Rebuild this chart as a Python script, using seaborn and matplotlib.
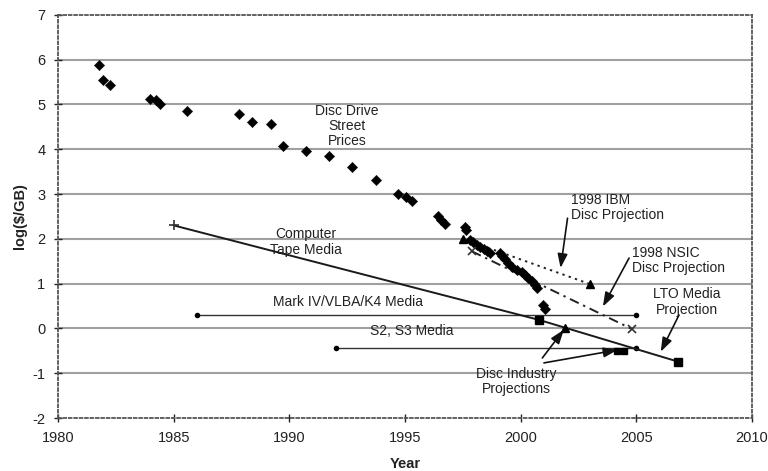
import matplotlib
matplotlib.use("Agg")
import matplotlib.pyplot as plt
import seaborn as sns
import pandas as pd

# ---- data ----
disc_years = [1981.77, 1981.93, 1982.26, 1983.98, 1984.24, 1984.41, 1985.56, 1987.83,
              1988.40, 1989.22, 1989.74, 1990.72, 1991.73, 1992.70, 1993.74, 1994.69,
              1995.05, 1995.32, 1996.43, 1996.58, 1996.73, 1997.60, 1997.66, 1997.80,
              1997.95, 1998.10, 1998.25, 1998.40, 1998.53, 1998.68, 1999.11, 1999.18,
              1999.32, 1999.47, 1999.61, 1999.83, 2000.05, 2000.19, 2000.33, 2000.48,
              2000.62, 2000.70, 2000.98, 2001.06]
disc_logcost = [5.87, 5.55, 5.44, 5.13, 5.09, 5.01, 4.86, 4.78,
                4.60, 4.56, 4.08, 3.96, 3.86, 3.61, 3.31, 3.00,
                2.94, 2.85, 2.50, 2.41, 2.33, 2.27, 2.20, 1.98,
                1.92, 1.87, 1.81, 1.77, 1.72, 1.68, 1.68, 1.62,
                1.55, 1.47, 1.38, 1.31, 1.25, 1.20, 1.12, 1.05,
                0.97, 0.90, 0.53, 0.43]

tape_years = [1985.0, 2000.8, 2006.8]
tape_logcost = [2.30, 0.19, -0.74]

mark4_years = [1986.0, 2005.0]
mark4_logcost = [0.31, 0.31]

s2s3_years = [1992.0, 2005.0]
s2s3_logcost = [-0.44, -0.44]

ibm_years = [1997.5, 2003.0]
ibm_logcost = [2.00, 0.99]

nsic_years = [1997.9, 2004.8]
nsic_logcost = [1.72, -0.01]

industry_years = [2001.9, 2004.15, 2004.45]
industry_logcost = [0.00, -0.50, -0.51]

x_ticks = [1980, 1985, 1990, 1995, 2000, 2005, 2010]
y_ticks = [-2, -1, 0, 1, 2, 3, 4, 5, 6, 7]

# ---- style ----
sns.set_theme(style="white")
plt.rcParams["font.family"] = ["Liberation Sans", "DejaVu Sans"]

fig = plt.figure(figsize=(7.68, 4.71), dpi=100)
ax = fig.add_axes([0.0755, 0.1125, 0.9035, 0.856])

# gridlines
for yv in y_ticks[1:-1]:
    ax.axhline(yv, color="#a0a0a0", lw=1.5, zorder=0)

df_disc = pd.DataFrame({"Year": disc_years, "log": disc_logcost})
sns.scatterplot(data=df_disc, x="Year", y="log", ax=ax, marker="D", s=28,
                color="black", edgecolor="black", linewidth=0.3, zorder=5)

def line(xs, ys, **kw):
    d = pd.DataFrame({"x": xs, "y": ys})
    sns.lineplot(data=d, x="x", y="y", ax=ax, sort=False, estimator=None, **kw)

line(tape_years, tape_logcost, color="#1a1a1a", lw=1.4, zorder=4)
ax.plot(tape_years[0], tape_logcost[0], marker="+", color="#333", ms=7, mew=1.2, zorder=6)
ax.plot(tape_years[1:], tape_logcost[1:], ls="none", marker="s", color="black", ms=5.5, zorder=6)

line(mark4_years, mark4_logcost, color="#333333", lw=1.0, zorder=3,
     marker="o", markersize=4, markeredgewidth=0, markerfacecolor="black")
line(s2s3_years, s2s3_logcost, color="#333333", lw=1.0, zorder=3,
     marker="o", markersize=4, markeredgewidth=0, markerfacecolor="black")

line(ibm_years, ibm_logcost, color="#222222", lw=1.4, zorder=4, linestyle=(0, (1.2, 2.2)))
ax.plot(ibm_years, ibm_logcost, ls="none", marker="^", color="black", ms=6, zorder=6)

line(nsic_years, nsic_logcost, color="#222222", lw=1.4, zorder=4,
     linestyle=(0, (5, 2.5, 1.2, 2.5)))
ax.plot(nsic_years, nsic_logcost, ls="none", marker="x", color="#333", ms=6, mew=1.2, zorder=6)

ax.plot(industry_years[:1], industry_logcost[:1], ls="none", marker="^", color="black", ms=6, zorder=6)
ax.plot(industry_years[1:], industry_logcost[1:], ls="none", marker="s", color="black", ms=5, zorder=6)

# ---- axes ----
ax.set_xlim(1980, 2010)
ax.set_ylim(-2, 7)
ax.set_xticks(x_ticks)
ax.set_yticks(y_ticks)
ax.set_xticklabels([str(t) for t in x_ticks])
ax.set_yticklabels([str(t) for t in y_ticks])
ax.tick_params(axis="both", labelsize=10.5, colors="#222222", direction="inout",
               length=6, width=1.0, bottom=True, left=True, pad=6)
ax.set_xlabel("Year", fontsize=10.5, fontweight="bold", color="#222222", labelpad=9)
ax.set_ylabel("log($/GB)", fontsize=10.5, fontweight="bold", color="#222222", labelpad=4)
for sp in ax.spines.values():
    sp.set_visible(True)
    sp.set_color("#555555")
    sp.set_linewidth(1.3)
    sp.set_linestyle((0, (1.5, 1.5)))
ax.grid(False)

# ---- annotations ----
tk = dict(fontsize=10, color="#222222", linespacing=1.1)
ax.text(1992.5, 4.52, "Disc Drive\nStreet\nPrices", ha="center", va="center", **tk)
ax.text(1990.7, 1.93, "Computer\nTape Media", ha="center", va="center", **tk)
ax.text(1992.55, 0.59, "Mark IV/VLBA/K4 Media", ha="center", va="center", **tk)
ax.text(1995.28, -0.06, "S2, S3 Media", ha="center", va="center", **tk)
ax.text(2002.2, 2.69, "1998 IBM\nDisc Projection", ha="left", va="center", **tk)
ax.text(2004.8, 1.51, "1998 NSIC\nDisc Projection", ha="left", va="center", **tk)
ax.text(2007.2, 0.59, "LTO Media\nProjection", ha="center", va="center", **tk)
ax.text(1999.8, -1.19, "Disc Industry\nProjections", ha="center", va="center", **tk)

ap = dict(arrowstyle="-|>,head_length=0.7,head_width=0.25", color="#111111", lw=1.2,
          shrinkA=0, shrinkB=0)
arrows = [((2002.03, 2.46), (2001.73, 1.35)),
          ((2004.69, 1.57), (2003.56, 0.49)),
          ((2006.85, 0.30), (2006.06, -0.52)),
          ((2000.94, -0.66), (2001.87, -0.03)),
          ((2001.01, -0.77), (2004.19, -0.48))]
for start, end in arrows:
    ax.annotate("", xy=end, xytext=start, arrowprops=ap)

fig.savefig("out.png", dpi=100)
